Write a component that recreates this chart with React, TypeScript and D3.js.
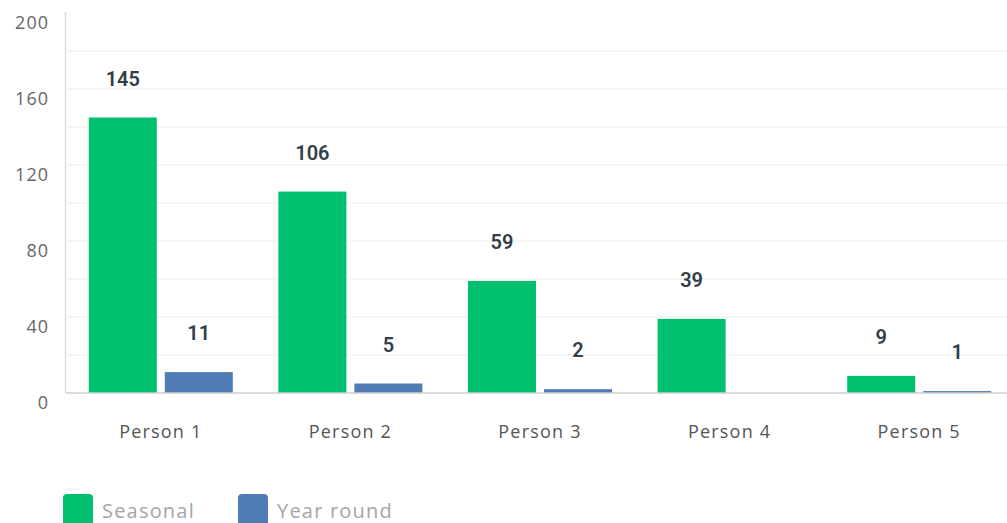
import React from "react";
import * as d3 from "d3";

const categories = ["Person 1", "Person 2", "Person 3", "Person 4", "Person 5"];
const seriesNames = ["Seasonal", "Year round"];
const seasonal = [145, 106, 59, 39, 9];
const yearRound = [11, 5, 2, 0, 1];
const yTicks = [0, 40, 80, 120, 160, 200];
const gridTicks = [20, 40, 60, 80, 100, 120, 140, 160, 180];
const colors = ["#00bf6f", "#507cb6"];

const W = 1007;
const H = 523;
const FONT = "Roboto, 'Open Sans', sans-serif";
const AXFONT = "'Open Sans', Roboto, sans-serif";

export default function App() {
  const y = d3.scaleLinear().domain([0, 200]).range([393, 13]);
  const x0 = d3
    .scaleBand<string>()
    .domain(categories)
    .range([66, 1014])
    .paddingInner(0.2405)
    .paddingOuter(0.12025);
  const x1 = d3
    .scaleBand<string>()
    .domain(seriesNames)
    .range([0, x0.bandwidth()])
    .paddingInner(0.10526);
  const seriesData = [seasonal, yearRound];

  return (
    <svg
      width={W}
      height={H}
      style={{ position: "absolute", left: 0, top: 0, background: "#fff" }}
      fontFamily={FONT}
    >
      {gridTicks.map((t) => (
        <line key={t} x1={67} x2={W} y1={y(t)} y2={y(t)} stroke="#ebebeb" strokeWidth={1} />
      ))}
      <line x1={65.5} x2={65.5} y1={12} y2={393} stroke="#dcdcdc" strokeWidth={1.5} />
      {yTicks.map((t) => (
        <text
          key={t}
          x={49}
          y={y(t) + 9}
          textAnchor="end"
          dominantBaseline="central"
          fontSize={18}
          letterSpacing={1}
          fontFamily={AXFONT}
          fill="#666"
        >
          {t}
        </text>
      ))}
      {categories.map((c, i) => (
        <g key={c} transform={`translate(${x0(c)},0)`}>
          {seriesNames.map((s, j) => {
            const v = seriesData[j][i];
            const bx = x1(s)!;
            return (
              <g key={s}>
                {v > 0 && (
                  <rect
                    x={bx}
                    y={y(v)}
                    width={x1.bandwidth()}
                    height={y(0) - y(v)}
                    fill={colors[j]}
                  />
                )}
                {v > 0 && (
                  <text
                    x={bx + x1.bandwidth() / 2}
                    y={y(v) - 39}
                    textAnchor="middle"
                    dominantBaseline="central"
                    fontSize={20}
                    fontWeight={600}
                    fill="#333e48"
                  >
                    {v}
                  </text>
                )}
              </g>
            );
          })}
          <text
            x={x0.bandwidth() / 2}
            y={431}
            textAnchor="middle"
            dominantBaseline="central"
            fontSize={18}
            letterSpacing={1.2}
            fontFamily={AXFONT}
            fill="#555"
          >
            {c}
          </text>
        </g>
      ))}
      <line x1={66} x2={W} y1={393} y2={393} stroke="#cfcfcf" strokeWidth={1.5} />
      {seriesNames.map((s, j) => {
        const lx = j === 0 ? 63 : 238;
        return (
          <g key={s}>
            <rect x={lx} y={494} width={30} height={32} rx={4} fill={colors[j]} />
            <text
              x={lx + 39}
              y={510}
              dominantBaseline="central"
              fontSize={20}
              letterSpacing={1.2}
              fontFamily={AXFONT}
              fill="#a5a5a5"
            >
              {s}
            </text>
          </g>
        );
      })}
    </svg>
  );
}
